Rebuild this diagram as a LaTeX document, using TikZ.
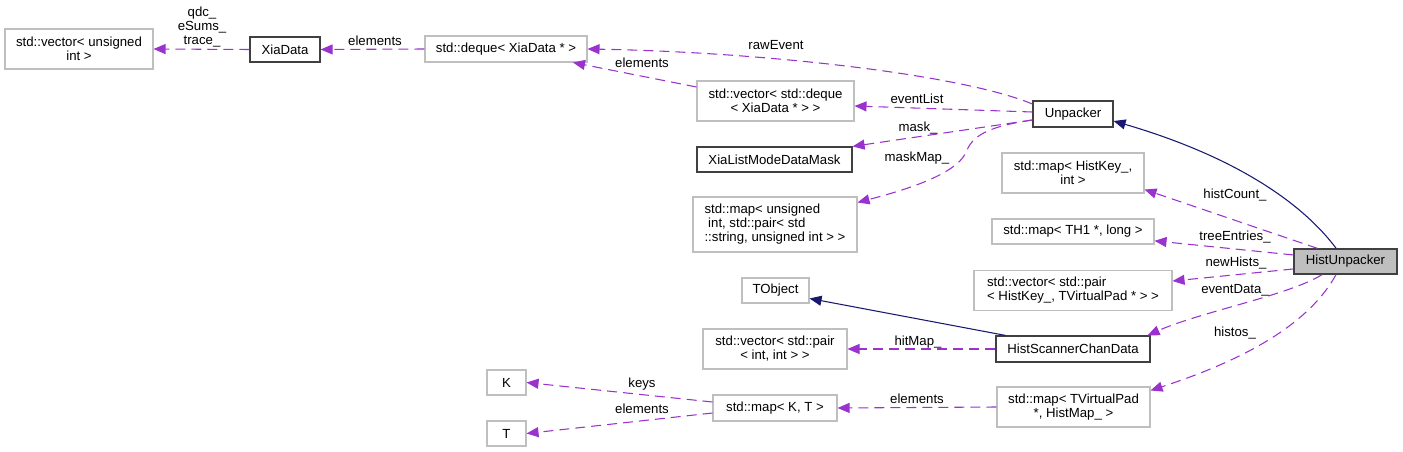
\documentclass[tikz,border=0pt]{standalone}
\usepackage{fontspec}
\setmainfont{Liberation Sans}
\usetikzlibrary{arrows.meta}
\definecolor{depcol}{HTML}{9A32CD}
\definecolor{inhcol}{HTML}{191970}
\definecolor{boxgray}{HTML}{BFBFBF}
\definecolor{boxdark}{HTML}{404040}
\definecolor{curfill}{HTML}{BFBFBF}
\tikzset{
  cls/.style={draw=boxgray, line width=0.8pt, inner sep=0pt, align=center,
    font=\fontsize{9.9}{10.5}\selectfont},
  clsdark/.style={cls, draw=boxdark, line width=0.9pt},
  lbl/.style={inner sep=0pt, align=center, font=\fontsize{9.9}{10.5}\selectfont},
  dep/.style={draw=depcol, line width=0.8pt, dash pattern=on 7.5pt off 4.5pt,
    -{Triangle[length=9pt,width=7.5pt]}},
  inh/.style={draw=inhcol, line width=0.8pt,
    -{Triangle[length=9pt,width=7.5pt]}},
}
\begin{document}
\begin{tikzpicture}[x=0.75pt,y=-0.75pt]
\useasboundingbox (0,0) rectangle (1403,452);
% nodes
\node[cls, minimum width=148*0.75pt, minimum height=40*0.75pt] (vecUInt) at (79,49) {std::vector< unsigned\\int >};
\node[clsdark, minimum width=70*0.75pt, minimum height=25*0.75pt] (XiaData) at (285,49.5) {XiaData};
\node[cls, minimum width=162*0.75pt, minimum height=26*0.75pt] (deque) at (506,49) {std::deque< XiaData * >};
\node[cls, minimum width=157*0.75pt, minimum height=40*0.75pt] (vecDeque) at (775.5,101) {std::vector< std::deque\\< XiaData * > >};
\node[clsdark, minimum width=80*0.75pt, minimum height=26*0.75pt] (Unpacker) at (1073,114) {Unpacker};
\node[clsdark, minimum width=155*0.75pt, minimum height=25*0.75pt] (Mask) at (774.5,159.5) {XiaListModeDataMask};
\node[cls, align=left, minimum width=164*0.75pt, minimum height=55*0.75pt] (mapUnsigned) at (775,224.5) {std::map< unsigned\\\ int, std::pair< std\\::string, unsigned int > >};
\node[cls, minimum width=142*0.75pt, minimum height=40*0.75pt] (mapHistKey) at (1073,173) {std::map< HistKey\_,\\int >};
\node[cls, minimum width=162*0.75pt, minimum height=25*0.75pt] (mapTH1) at (1073,231.5) {std::map< TH1 *, long >};
\node[clsdark, fill=curfill, minimum width=103*0.75pt, minimum height=25*0.75pt] (HistUnpacker) at (1345.5,261.5) {HistUnpacker};
\node[cls, align=left, minimum width=198*0.75pt, minimum height=40*0.75pt] (vecPair) at (1073,290.5) {std::vector< std::pair\\< HistKey\_, TVirtualPad * > >};
\node[cls, minimum width=67*0.75pt, minimum height=25*0.75pt] (TObject) at (775.5,290.5) {TObject};
\node[cls, minimum width=144*0.75pt, minimum height=40*0.75pt] (vecPairInt) at (775,349) {std::vector< std::pair\\< int, int > >};
\node[clsdark, minimum width=154*0.75pt, minimum height=26*0.75pt] (HSCD) at (1073,349) {HistScannerChanData};
\node[cls, minimum width=39*0.75pt, minimum height=25*0.75pt] (K) at (506.5,382.5) {K};
\node[cls, minimum width=39*0.75pt, minimum height=25*0.75pt] (T) at (506.5,433.5) {T};
\node[cls, minimum width=124*0.75pt, minimum height=26*0.75pt] (mapKT) at (775,408) {std::map< K, T >};
\node[cls, minimum width=153*0.75pt, minimum height=40*0.75pt] (mapTVP) at (1073.5,407) {std::map< TVirtualPad\\*, HistMap\_ >};
% edges
\draw[dep] (XiaData.west) -- (vecUInt.east);
\node[lbl] (lq) at (202,27) {qdc\_\\eSums\_\\trace\_};
\draw[dep] (deque.west) -- (XiaData.east);
\node[lbl] (le1) at (375,41) {elements};
\draw[dep] ([yshift=7.5pt]Unpacker.west) .. controls (960,74) and (760,52) .. (deque.east);
\node[lbl] (lraw) at (776,45) {rawEvent};
\draw[dep] ([yshift=10.5pt]vecDeque.west) -- ([xshift=50.25pt]deque.south);
\node[lbl] (le2) at (642,63) {elements};
\draw[dep] ([yshift=1.5pt]Unpacker.west) -- ([yshift=-3.75pt]vecDeque.east);
\node[lbl] (lev) at (917,99) {eventList};
\draw[dep] ([yshift=-4.5pt]Unpacker.west) -- (Mask.north east);
\node[lbl] (lmask) at (918,128) {mask\_};
\draw[dep] ([yshift=-4.5pt]Unpacker.west) .. controls (992,126) and (974,134) .. (967,150) .. controls (959,174) and (905,190) .. ([yshift=-4.5pt]mapUnsigned.north east);
\node[lbl] (lmm) at (917,158) {maskMap\_};
\draw[inh] ([xshift=-7pt]HistUnpacker.north) .. controls (1300,200) and (1230,155) .. ([yshift=-5.25pt]Unpacker.east);
\draw[dep] ([xshift=-21pt]HistUnpacker.north) -- ([yshift=3pt]mapHistKey.south east);
\node[lbl] (lhc) at (1235,195) {histCount\_};
\draw[dep] ([yshift=4.9pt]HistUnpacker.west) -- ([yshift=-7pt]mapTH1.east);
\node[lbl] (lte) at (1235,237) {treeEntries\_};
\draw[dep] ([yshift=-5.6pt]HistUnpacker.west) -- ([yshift=7.1pt]vecPair.east);
\node[lbl] (lnh) at (1236,263) {newHists\_};
\draw[dep] ([xshift=-17.6pt]HistUnpacker.south) .. controls (1290,295) and (1200,312) .. ([xshift=-2.25pt]HSCD.north east);
\node[lbl] (led) at (1235,290) {eventData\_};
\draw[dep] ([xshift=-7.1pt]HistUnpacker.south) .. controls (1310,322) and (1250,358) .. ([yshift=-3pt]mapTVP.north east);
\node[lbl] (lhi) at (1235,333) {histos\_};
\draw[inh] ([xshift=7.5pt]HSCD.north west) -- ([yshift=-6pt]TObject.east);
\draw[dep] (HSCD.west) -- (vecPairInt.east);
\node[lbl] (lhm) at (918,342) {hitMap\_};
\draw[dep] ([yshift=4.5pt]mapKT.west) -- (K.east);
\node[lbl] (lk) at (642,384) {keys};
\draw[dep] ([yshift=-3.75pt]mapKT.west) -- (T.east);
\node[lbl] (le3) at (642,409) {elements};
\draw[dep] (mapTVP.west) -- (mapKT.east);
\node[lbl] (le4) at (917,399) {elements};
\end{tikzpicture}
\end{document}
